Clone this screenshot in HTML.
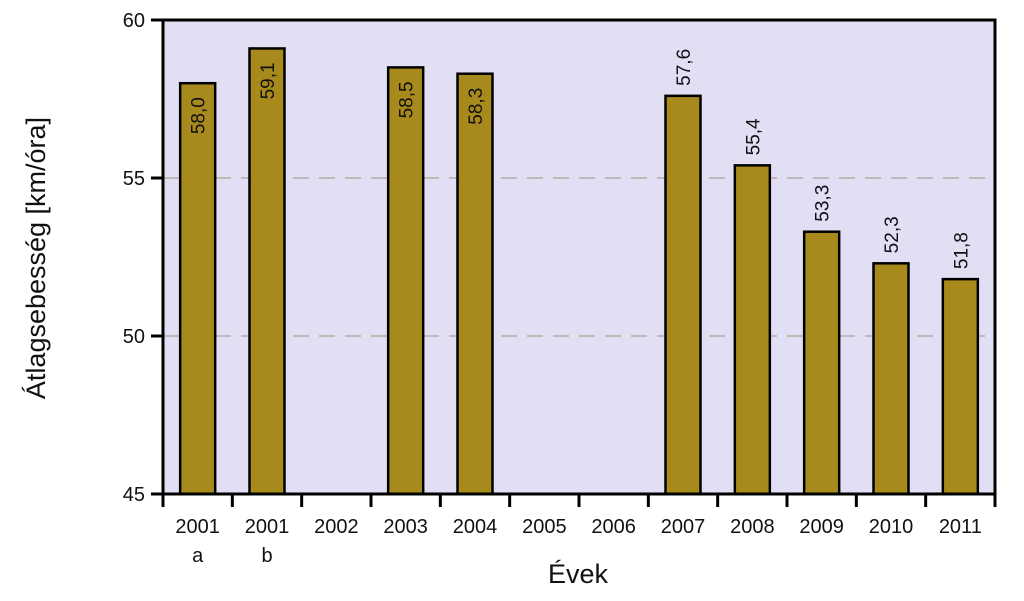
<!DOCTYPE html>
<html><head><meta charset="utf-8"><style>
body{margin:0;background:#fff;}
text{font-family:"Liberation Sans",sans-serif;fill:#111;}
</style></head><body>
<svg width="1024" height="596">
<g id="plot"></g>
</svg>
<script>
const categories=["2001|a","2001|b","2002","2003","2004","2005","2006","2007","2008","2009","2010","2011"];
const values=[58.0,59.1,null,58.5,58.3,null,null,57.6,55.4,53.3,52.3,51.8];
const labelInside=[true,true,false,true,true,false,false,false,false,false,false,false];
const yTicks=[45,50,55,60];
const gridTicks=[50,55];
const NS="http://www.w3.org/2000/svg";
const L=163,R=995,T=20,B=494,yMin=45,yMax=60;
const y=v=>B-(v-yMin)/(yMax-yMin)*(B-T);
const bw=(R-L)/categories.length;
const x=i=>L+bw*(i+0.5);
const g=document.getElementById('plot');
function el(tag,attrs,parent){const e=document.createElementNS(NS,tag);for(const k in attrs)e.setAttribute(k,attrs[k]);(parent||g).appendChild(e);return e;}
const bg=el('rect',{x:L,y:T,width:R-L,height:B-T,fill:'#E2DFF5'});


gridTicks.forEach(v=>{const l=el('line',{x1:L,x2:R,y1:y(v),y2:y(v),stroke:'#bdbab8','stroke-width':2,'stroke-dasharray':'16,10'});

});
values.forEach((v,i)=>{if(v==null)return;
const r=el('rect',{x:x(i)-17.5,y:y(v),width:35,height:B-y(v),fill:'#A88A1C',stroke:'#000','stroke-width':2.5});


const s=v.toFixed(1).replace('.',',');
let t;
if(labelInside[i]){t=el('text',{transform:`translate(${x(i)+7},${y(v)+14}) rotate(-90)`,'text-anchor':'end','font-size':19});}
else{t=el('text',{transform:`translate(${x(i)+7},${y(v)-10}) rotate(-90)`,'text-anchor':'start','font-size':19});}
t.textContent=s;

});
const fr=el('rect',{x:L,y:T,width:R-L,height:B-T,fill:'none',stroke:'#000','stroke-width':3});


yTicks.forEach(v=>{el('line',{x1:L-12,x2:L,y1:y(v),y2:y(v),stroke:'#000','stroke-width':3});
const t=el('text',{x:L-18,y:y(v)+7,'text-anchor':'end','font-size':20});t.textContent=v;

});
for(let i=0;i<=categories.length;i++){el('line',{x1:L+bw*i,x2:L+bw*i,y1:B,y2:B+13,stroke:'#000','stroke-width':3});}
categories.forEach((c,i)=>{const p=c.split('|');
const t=el('text',{x:x(i),y:533,'text-anchor':'middle','font-size':20});t.textContent=p[0];


if(p[1]){const s=el('text',{x:x(i),y:562,'text-anchor':'middle','font-size':20});s.textContent=p[1];

}});
const xt=el('text',{x:578,y:583,'text-anchor':'middle','font-size':27});xt.textContent='Évek';


const yt=el('text',{transform:'translate(45,258) rotate(-90)','text-anchor':'middle','font-size':27});yt.textContent='Átlagsebesség [km/óra]';


</script>
</body></html>
